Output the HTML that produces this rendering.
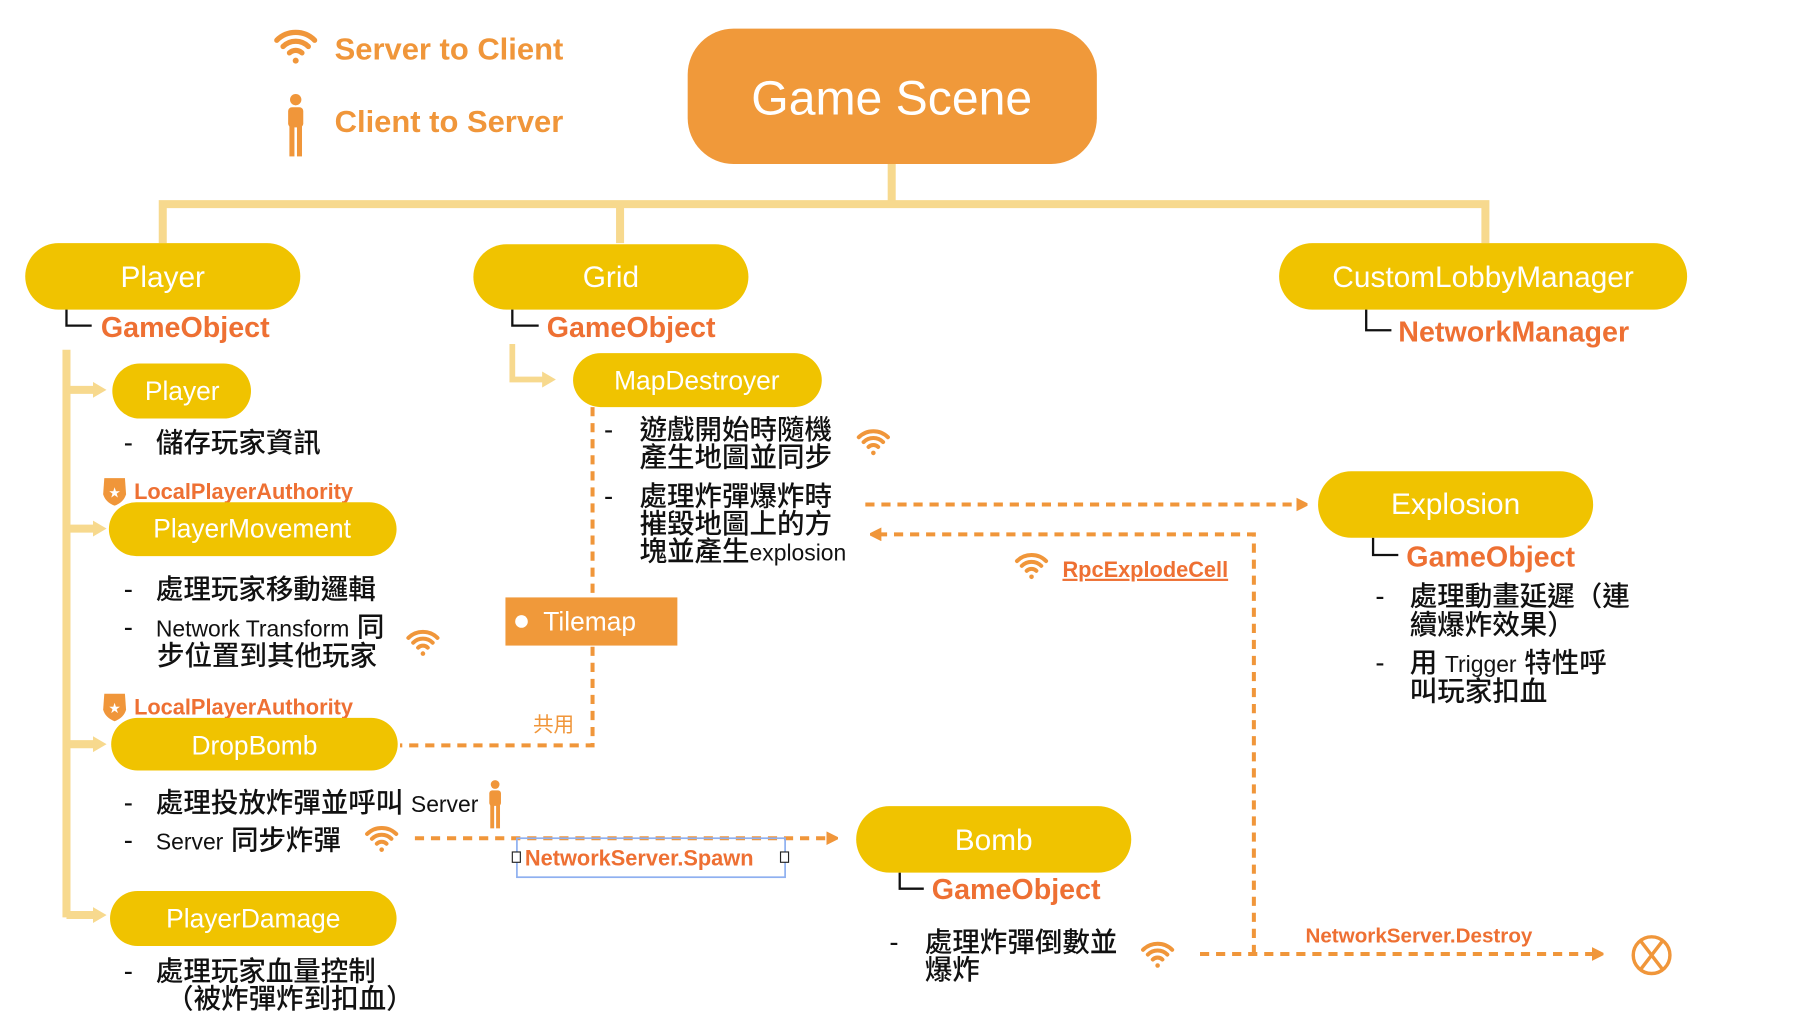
<!DOCTYPE html>
<html><head><meta charset="utf-8"><style>
html,body{margin:0;padding:0;background:#fff;width:1796px;height:1032px;overflow:hidden}
svg{display:block}
text{font-family:"Liberation Sans","Noto Sans CJK TC",sans-serif}
.cjk{font-family:"Liberation Sans","Noto Sans CJK TC",sans-serif;fill:#111;font-size:24px;font-weight:500}
.pt{fill:#fff;text-anchor:middle;dominant-baseline:central}
.go{fill:#EE7033;font-size:25px;font-weight:bold;dominant-baseline:central}
.or{fill:#F0963A;font-weight:bold}
</style></head><body>
<svg width="1796" height="1032" viewBox="0 0 1567 900" preserveAspectRatio="none">
<defs>
<g id="wifi" fill="none" stroke="#F0963A" stroke-width="3.5" stroke-linecap="round">
<path d="M-4.2,7.8 A6,6 0 0 1 4.2,7.8"/>
<path d="M-8.5,3.5 A12,12 0 0 1 8.5,3.5"/>
<path d="M-12.7,-0.7 A18,18 0 0 1 12.7,-0.7"/>
<circle cx="0" cy="13" r="2" fill="#F0963A" stroke="none"/>
</g>
<g id="person" fill="#F0963A">
<circle cx="0" cy="-21" r="4.5"/>
<rect x="-6" y="-15" width="12" height="16" rx="3"/>
<rect x="-5" y="0" width="4" height="24"/>
<rect x="1" y="0" width="4" height="24"/>
</g>
<g id="badge"><path d="M-9,-11 L9,-11 L10,3 Q8,10 0,13 Q-8,10 -10,3 Z" fill="#F0963A"/><text x="0" y="5" fill="#fff" font-size="10" text-anchor="middle">★</text></g>
<marker id="ah" markerWidth="10" markerHeight="12" refX="1" refY="6" orient="auto" markerUnits="userSpaceOnUse"><path d="M0,0 L12,6 L0,12 Z" fill="#F0963A"/></marker>
<marker id="ahy" markerWidth="12" markerHeight="14" refX="1" refY="7" orient="auto" markerUnits="userSpaceOnUse"><path d="M0,0 L12,7 L0,14 Z" fill="#F7D98E"/></marker>
</defs>

<use href="#wifi" transform="translate(258,36) scale(1.3)"/>
<text x="292" y="52" class="or" font-size="27">Server to Client</text>
<use href="#person" transform="translate(258,110) scale(1.1)"/>
<text x="292" y="115" class="or" font-size="27">Client to Server</text>

<rect x="600" y="25" width="357" height="118" rx="40" fill="#F0993A"/>
<text x="778" y="86" class="pt" style="font-size:42px">Game Scene</text>

<g stroke="#F7D98E" stroke-width="7" fill="none">
<path d="M778,143 V178"/>
<path d="M142,212 V178 H1296 V212"/>
<path d="M541,178 V212"/>
<path d="M58,305 V800"/>
<path d="M58,340 H82" marker-end="url(#ahy)"/>
<path d="M58,461 H82" marker-end="url(#ahy)"/>
<path d="M58,649 H82" marker-end="url(#ahy)"/>
<path d="M58,798 H82" marker-end="url(#ahy)"/>
<path d="M447,300 V331 H474" stroke-width="5" marker-end="url(#ahy)"/>
</g>

<rect x="22" y="212" width="240" height="58" rx="29" fill="#F0C300"/>
<text x="142" y="242" class="pt" style="font-size:26px">Player</text>
<rect x="413" y="213" width="240" height="57" rx="29" fill="#F0C300"/>
<text x="533" y="242" class="pt" style="font-size:26px">Grid</text>
<rect x="1116" y="212" width="356" height="58" rx="29" fill="#F0C300"/>
<text x="1294" y="242" class="pt" style="font-size:26px">CustomLobbyManager</text>

<g stroke="#111" stroke-width="2" fill="none">
<path d="M58,270 V284 H80"/>
<path d="M447,270 V284 H470"/>
<path d="M1192,270 V288 H1214"/>
<path d="M1198,469 V484 H1220"/>
<path d="M785,761 V775 H806"/>
</g>
<text x="88" y="286" class="go">GameObject</text>
<text x="477" y="286" class="go">GameObject</text>
<text x="1220" y="290" class="go">NetworkManager</text>

<rect x="98" y="317" width="121" height="48" rx="24" fill="#F0C300"/>
<text x="159" y="341" class="pt" style="font-size:23px">Player</text>
<text x="108" y="394" class="cjk">-&#160;&#160;&#160;儲存玩家資訊</text>

<use href="#badge" transform="translate(100,428)"/>
<text x="117" y="435" style="fill:#EE7033;font-weight:bold" font-size="19">LocalPlayerAuthority</text>
<rect x="95" y="438" width="251" height="47" rx="24" fill="#F0C300"/>
<text x="220" y="461" class="pt" style="font-size:23px">PlayerMovement</text>
<text x="108" y="522" class="cjk">-&#160;&#160;&#160;處理玩家移動邏輯</text>
<text x="108" y="555" class="cjk">-&#160;&#160;&#160;<tspan font-size="20">Network Transform</tspan> 同</text>
<text x="137" y="580" class="cjk">步位置到其他玩家</text>
<use href="#wifi" transform="translate(369,557)"/>

<use href="#badge" transform="translate(100,616)"/>
<text x="117" y="623" style="fill:#EE7033;font-weight:bold" font-size="19">LocalPlayerAuthority</text>
<rect x="97" y="626" width="250" height="46" rx="23" fill="#F0C300"/>
<text x="222" y="650" class="pt" style="font-size:23px">DropBomb</text>
<text x="108" y="708" class="cjk">-&#160;&#160;&#160;處理投放炸彈並呼叫 <tspan font-size="20">Server</tspan></text>
<use href="#person" transform="translate(432,702) scale(0.85)"/>
<text x="108" y="741" class="cjk">-&#160;&#160;&#160;<tspan font-size="20">Server</tspan> 同步炸彈</text>
<use href="#wifi" transform="translate(333,728)"/>

<rect x="96" y="777" width="250" height="48" rx="24" fill="#F0C300"/>
<text x="221" y="801" class="pt" style="font-size:23px">PlayerDamage</text>
<text x="108" y="855" class="cjk">-&#160;&#160;&#160;處理玩家血量控制</text>
<text x="145" y="879" class="cjk">（被炸彈炸到扣血）</text>

<g stroke="#F0963A" stroke-width="3.5" fill="none" stroke-dasharray="8,6">
<path d="M517,355 V520"/>
<path d="M517,564 V650 H349"/>
<path d="M362,731 H722" marker-end="url(#ah)"/>
<path d="M755,440 H1132" marker-end="url(#ah)"/>
<path d="M1094,832 V466 H768" marker-end="url(#ah)"/>
<path d="M1047,832 H1390" marker-end="url(#ah)"/>
</g>

<rect x="441" y="521" width="150" height="42" fill="#F0993A"/>
<circle cx="455" cy="542" r="5.5" fill="#fff"/>
<text x="474" y="542" fill="#fff" font-size="23" dominant-baseline="central">Tilemap</text>
<text x="465" y="638" style="fill:#F0963A" font-size="18">共用</text>

<rect x="451" y="731" width="234" height="34" fill="none" stroke="#8FB0F0" stroke-width="1.5"/>
<rect x="447" y="743" width="7" height="9" fill="#fff" stroke="#222" stroke-width="1"/>
<rect x="681" y="743" width="7" height="9" fill="#fff" stroke="#222" stroke-width="1"/>
<text x="458" y="755" style="fill:#EE7033;font-weight:bold" font-size="19">NetworkServer.Spawn</text>

<rect x="500" y="308" width="217" height="47" rx="24" fill="#F0C300"/>
<text x="608" y="332" class="pt" style="font-size:23px">MapDestroyer</text>
<text x="527" y="383" class="cjk">-</text>
<text x="558" y="383" class="cjk">遊戲開始時隨機</text>
<text x="558" y="407" class="cjk">產生地圖並同步</text>
<use href="#wifi" transform="translate(762,382)"/>
<text x="527" y="441" class="cjk">-</text>
<text x="558" y="441" class="cjk">處理炸彈爆炸時</text>
<text x="558" y="465" class="cjk">摧毀地圖上的方</text>
<text x="558" y="489" class="cjk">塊並產生<tspan font-size="20">explosion</tspan></text>

<use href="#wifi" transform="translate(900,490)"/>
<text x="927" y="503" style="fill:#EE7033;font-weight:bold;text-decoration:underline dotted red" font-size="19">RpcExplodeCell</text>

<rect x="1150" y="411" width="240" height="58" rx="29" fill="#F0C300"/>
<text x="1270" y="440" class="pt" style="font-size:26px">Explosion</text>
<text x="1227" y="486" class="go">GameObject</text>
<text x="1200" y="528" class="cjk">-</text>
<text x="1230" y="528" class="cjk">處理動畫延遲（連</text>
<text x="1230" y="553" class="cjk">續爆炸效果）</text>
<text x="1200" y="586" class="cjk">-</text>
<text x="1230" y="586" class="cjk">用 <tspan font-size="20">Trigger</tspan> 特性呼</text>
<text x="1230" y="611" class="cjk">叫玩家扣血</text>

<rect x="747" y="703" width="240" height="58" rx="29" fill="#F0C300"/>
<text x="867" y="733" class="pt" style="font-size:26px">Bomb</text>
<text x="813" y="776" class="go">GameObject</text>
<text x="776" y="830" class="cjk">-</text>
<text x="807" y="830" class="cjk">處理炸彈倒數並</text>
<text x="807" y="854" class="cjk">爆炸</text>
<use href="#wifi" transform="translate(1010,829)"/>

<text x="1139" y="822" style="fill:#EE7033;font-weight:bold" font-size="18">NetworkServer.Destroy</text>
<circle cx="1441" cy="833" r="16" fill="none" stroke="#F0963A" stroke-width="3"/>
<path d="M1431,820 L1451,846 M1451,820 L1431,846" stroke="#F0963A" stroke-width="3"/>
</svg>
</body></html>
